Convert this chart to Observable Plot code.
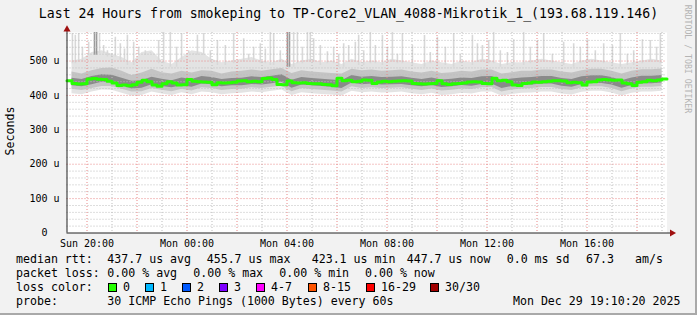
<!DOCTYPE html>
<html><head><meta charset="utf-8">
<script src="https://cdn.jsdelivr.net/npm/d3@7"></script>
<script src="https://cdn.jsdelivr.net/npm/@observablehq/plot@0.6"></script>
<style>
html,body{margin:0;padding:0;background:#f2f2f2;}
#chart svg text{white-space:pre;}
</style></head><body><div id="chart"></div>
<script>
// ---- time axis ----
const startTime = Date.UTC(2025, 11, 28, 19, 12);
const endTime = Date.UTC(2025, 11, 29, 19, 12);
const medianStepMin = 12;
const smokeStepMin = 24;

// ---- median rtt (us), one value every 12 minutes ----
const median = [
  443,435,433,434,448,449,447,446,441,436,
  429,430,428,431,438,444,440,430,427,434,
  440,436,430,431,446,441,440,439,438,431,
  437,436,437,438,442,443,440,441,440,449,
  451,446,432,431,442,437,436,437,435,434,
  434,432,431,428,450,443,444,440,441,445,
  444,435,439,441,440,441,442,443,442,435,
  434,433,434,435,443,434,432,434,435,436,
  439,440,439,435,434,450,443,444,440,430,
  429,435,436,439,438,440,441,443,443,442,
  437,438,437,430,439,440,445,446,445,444,
  445,436,434,429,438,440,444,443,445,448
];

// ---- smoke envelopes (us), one value every 24 minutes ----
const darkHi = [
  450,446,455,460,459,450,441,443,453,447,
  443,451,446,455,452,446,449,450,454,452,
  456,460,444,452,449,447,445,443,458,453,
  455,452,453,454,450,446,451,445,447,451,
  449,454,455,443,448,451,452,455,455,449,
  446,454,457,457,452,443,451,456,456,458
];
const darkLo = [
  428,425,431,438,437,428,419,421,431,426,
  422,428,424,433,431,425,428,428,432,430,
  434,438,421,430,428,426,424,420,436,431,
  433,430,431,432,428,425,429,423,425,429,
  427,432,433,420,426,429,430,433,433,427,
  424,432,435,435,430,421,429,434,434,436
];
const midHi = [
  468,462,472,478,480,470,458,465,476,466,
  462,470,465,472,470,462,468,470,474,470,
  475,478,464,472,468,466,464,462,476,472,
  474,470,472,474,468,465,470,464,466,470,
  468,474,474,462,466,470,470,474,474,468,
  465,472,476,476,470,462,470,475,475,477
];
const midLo = [
  418,414,420,426,426,418,410,411,420,415,
  411,418,413,422,420,414,417,418,422,420,
  424,427,411,420,417,415,413,410,425,420,
  422,420,421,422,418,414,419,413,415,419,
  417,422,423,410,416,419,420,423,423,417,
  414,422,425,425,420,411,419,424,424,426
];
const lightHi = [
  500,505,525,530,520,510,495,525,530,500,
  490,510,530,525,505,495,500,505,510,500,
  495,505,490,500,505,495,500,490,505,495,
  500,495,505,500,495,490,500,495,490,500,
  495,505,500,490,495,495,500,505,500,495,
  490,500,505,500,495,490,495,500,505,500
];
const lightLo = [
  405,402,410,416,415,406,398,400,410,404,
  400,408,402,410,408,402,405,406,410,408,
  412,416,400,408,405,403,401,398,412,408,
  410,407,408,410,405,402,406,400,402,406,
  404,410,410,398,403,406,407,410,410,404,
  401,409,412,412,407,398,406,410,410,412
];

// ---- isolated high pings: minutes after start, top (us), dark? ----
const spikeMinutes = [13,20,28,66,71,78,97,116,128,145,160,188,220,232,248,275,292,313,328,361,
  400,424,448,464,488,496,529,534,544,553,577,584,592,625,640,664,676,692,700,728,
  740,757,781,805,858,889,928,973,985,1012,1024,1072,1096,1129,1144,1192,1216,1249,1288,1328,
  1360,1381,1400,1424,
  37,52,88,107,138,172,200,263,304,344,380,436,476,512,565,608,652,712,769,793,
  829,872,908,944,997,1040,1057,1112,1165,1232,1268,1309,1345,1415];
const spikeTops = [580,575,580,583,583,580,530,569,550,575,555,530,560,583,583,580,530,575,580,560,
  580,565,540,550,583,580,583,583,583,583,583,583,565,527,540,550,545,555,575,583,
  545,575,583,580,574,569,580,575,550,560,583,562,583,560,580,555,550,562,550,580,
  530,562,560,580,
  540,555,545,520,535,540,525,540,520,530,545,520,535,530,540,545,520,530,540,520,
  545,525,540,520,545,530,525,540,520,540,530,545,520,540];
const spikeDark = [0,0,0,1,1,0,0,0,0,0,0,0,0,0,0,0,0,0,0,0,
  0,0,0,0,0,0,1,1,0,0,0,0,0,0,0,0,0,0,0,0,
  0,0,0,0,0,0,0,0,0,0,0,0,0,0,0,0,0,0,0,0,
  0,0,0,0,
  0,0,0,0,0,0,0,0,0,0,0,0,0,0,0,0,0,0,0,0,
  0,0,0,0,0,0,0,0,0,0,0,0,0,0];

// ---- axis labels ----
const yTicks = [0, 100, 200, 300, 400, 500];
const yTickLabels = ["0  ", "100 u", "200 u", "300 u", "400 u", "500 u"];
const xTickTimes = [Date.UTC(2025,11,28,20), Date.UTC(2025,11,29,0), Date.UTC(2025,11,29,4),
  Date.UTC(2025,11,29,8), Date.UTC(2025,11,29,12), Date.UTC(2025,11,29,16)];
const xTickLabels = ["Sun 20:00", "Mon 00:00", "Mon 04:00", "Mon 08:00", "Mon 12:00", "Mon 16:00"];

// ---- legend ----
const lossLabels = ["0", "1", "2", "3", "4-7", "8-15", "16-29", "30/30"];
const lossColors = ["#26ff00", "#00b8ff", "#0059ff", "#7e00ff", "#ff00ff", "#ff5500", "#ff0000", "#a10000"];

const MIN = 60000;
const medRows = median.map((v, i) => ({t: new Date(startTime + i * medianStepMin * MIN), v}));
medRows.push({t: new Date(endTime), v: median[median.length - 1]});
const smokeRows = darkHi.map((d, i) => ({
  t: new Date(startTime + (i + 0.5) * smokeStepMin * MIN),
  dHi: d, dLo: darkLo[i], mHi: midHi[i], mLo: midLo[i], lHi: lightHi[i], lLo: lightLo[i]
}));
const spikeRows = spikeMinutes.map((m, i) => ({
  t: new Date(startTime + m * MIN),
  base: lightHi[Math.min(lightHi.length - 1, Math.floor(m / smokeStepMin))] - 8,
  top: spikeTops[i], dark: spikeDark[i]
}));

const hours = d3.utcHour.range(new Date(startTime), new Date(endTime)).filter(d => d > startTime);
const minorHours = hours.filter(d => d.getUTCHours() % 2 === 1);
const majorHours = hours.filter(d => d.getUTCHours() % 2 === 0);
const minorY = d3.range(20, 583, 20).filter(v => v % 100 !== 0);
const majorY = [100, 200, 300, 400, 500];

const dash = "1,2";
const plot = Plot.plot({
  width: 697, height: 315,
  marginTop: 32, marginBottom: 82.5, marginLeft: 66.5, marginRight: 30.5,
  x: {type: "utc", domain: [new Date(startTime), new Date(endTime)], axis: null},
  y: {domain: [0, 583], axis: null},
  style: {background: "#f2f2f2", fontFamily: "DejaVu Sans Mono", fontSize: "10px", color: "#000"},
  marks: [
    Plot.frame({fill: "white", stroke: "none"}),
    // smoke
    Plot.areaY(smokeRows, {x: "t", y1: "lLo", y2: "lHi", fill: "#e3e3e3", clip: true}),
    Plot.ruleX(spikeRows, {x: "t", y1: "base", y2: "top", stroke: d => d.dark ? "#9a9a9a" : "#d8d8d8", strokeWidth: 1.6, clip: true}),
    Plot.areaY(smokeRows, {x: "t", y1: "mLo", y2: "mHi", fill: "#c4c4c4", clip: true}),
    Plot.areaY(smokeRows, {x: "t", y1: "dLo", y2: "dHi", fill: "#8a8a8a", clip: true}),
    // grid
    Plot.ruleY(minorY, {stroke: "#bdbdbd", strokeDasharray: dash}),
    Plot.ruleX(minorHours, {stroke: "#bdbdbd", strokeDasharray: dash}),
    Plot.ruleY(majorY, {stroke: "#e88888", strokeDasharray: dash}),
    Plot.ruleX(majorHours, {stroke: "#e88888", strokeDasharray: dash}),
    // median
    Plot.line(medRows, {x: "t", y: "v", curve: "step-after", stroke: "#26ff00", strokeWidth: 3}),
    // axes
    Plot.ruleY([0], {x1: new Date(startTime), x2: new Date(endTime + 10 * MIN), stroke: "#222"}),
    Plot.ruleX([new Date(startTime)], {y1: 0, y2: 590, stroke: "#222"}),
    Plot.dot([0], {x: new Date(endTime + 12 * MIN), y: 0, symbol: "triangle", rotate: 90, r: 2.6, fill: "#a01010", stroke: "none"}),
    Plot.dot([0], {x: new Date(startTime), y: 592, symbol: "triangle", r: 2.6, fill: "#a01010", stroke: "none"}),
    // tick labels
    Plot.text(yTicks, {x: new Date(startTime), y: d => d, text: (d, i) => yTickLabels[i], textAnchor: "end", dx: -7.5, fill: "#000"}),
    Plot.text(xTickTimes, {x: d => new Date(d), y: 0, text: (d, i) => xTickLabels[i], dy: 13.5, lineAnchor: "bottom", fill: "#000"})
  ]
});
document.getElementById("chart").appendChild(plot);

// ---- titles, legend and borders ----
const svg = d3.select(plot);
const F = "DejaVu Sans Mono";
const addText = (x, y, t, size, anchor) => svg.append("text").attr("x", x).attr("y", y)
  .attr("text-anchor", anchor).attr("font-family", F).attr("font-size", size).attr("fill", "#000").text(t);
addText(348.5, 18, "Last 24 Hours from smokeping to TP-Core2_VLAN_4088-Mikrotik_1_(193.68.119.146)", "13.2px", "middle");
svg.append("text").attr("transform", "translate(14,131) rotate(-90)").attr("text-anchor", "middle")
  .attr("font-family", F).attr("font-size", "11.6px").attr("fill", "#000").text("Seconds");
svg.append("text").attr("transform", "translate(685,59) rotate(90)").attr("text-anchor", "middle")
  .attr("font-family", F).attr("font-size", "8.2px").attr("fill", "#b4b4b4").text("RRDTOOL / TOBI OETIKER");

const legendItems = [
  [16, 263, "median rtt:"], [107.3, 263, "437.7 us avg"], [206.7, 263, "455.7 us max"],
  [311.7, 263, "423.1 us min"], [406.7, 263, "447.7 us now"], [506.7, 263, "0.0 ms sd"],
  [586, 263, "67.3"], [635, 263, "am/s"],
  [16, 277, "packet loss:"], [107.3, 277, "0.00 % avg"], [193.3, 277, "0.00 % max"],
  [279.3, 277, "0.00 % min"], [365, 277, "0.00 % now"],
  [16, 291, "loss color:"],
  [16, 305, "probe:"], [107.3, 305, "30 ICMP Echo Pings (1000 Bytes) every 60s"]
];
legendItems.forEach(([x, y, t]) => addText(x, y, t, "11.6px", "start"));
addText(680.5, 305, "Mon Dec 29 19:10:20 2025", "11.6px", "end");
const boxX = [108.5, 145.5, 182.5, 219.5, 256.5, 308.5, 366.5, 430.5];
lossLabels.forEach((l, i) => {
  svg.append("rect").attr("x", boxX[i]).attr("y", 283.5).attr("width", 8).attr("height", 8)
    .attr("fill", lossColors[i]).attr("stroke", "#000").attr("stroke-width", 1);
  addText(boxX[i] + 14.5, 291, l, "11.6px", "start");
});
svg.append("rect").attr("x", 0).attr("y", 313).attr("width", 697).attr("height", 2).attr("fill", "#a9a9a9");
svg.append("rect").attr("x", 695).attr("y", 0).attr("width", 2).attr("height", 315).attr("fill", "#a9a9a9");
</script></body></html>
